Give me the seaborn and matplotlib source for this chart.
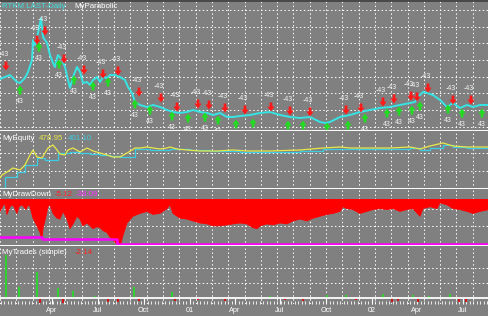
import numpy as np
import pandas as pd
import matplotlib
matplotlib.use("Agg")
import matplotlib.pyplot as plt
import matplotlib.dates as mdates
from matplotlib.path import Path
from matplotlib.lines import Line2D
import seaborn as sns

# ---------------- data ----------------
price_dates = ['1999-12-19','1999-12-29','2000-01-08','2000-01-22','2000-01-28','2000-02-07','2000-02-13','2000-02-21','2000-02-23','2000-02-27',
               '2000-03-04','2000-03-08','2000-03-10','2000-03-14','2000-03-22','2000-03-28','2000-04-03','2000-04-07','2000-04-11','2000-04-13',
               '2000-04-21','2000-04-27','2000-05-03','2000-05-07','2000-05-13','2000-05-21','2000-05-27','2000-06-02','2000-06-10','2000-06-16',
               '2000-06-22','2000-06-30','2000-07-06','2000-07-12','2000-07-20','2000-07-26','2000-08-05','2000-08-15','2000-08-25','2000-08-31',
               '2000-09-08','2000-09-14','2000-09-24','2000-10-08','2000-10-20','2000-11-03','2000-11-17','2000-11-29','2000-12-13','2000-12-27',
               '2001-01-08','2001-01-22','2001-02-05','2001-02-17','2001-03-03','2001-03-17','2001-03-29','2001-04-12','2001-05-02','2001-05-22',
               '2001-06-11','2001-07-01','2001-07-21','2001-08-10','2001-08-30','2001-09-19','2001-09-29','2001-10-09','2001-10-29','2001-11-18',
               '2001-12-08','2001-12-28','2002-01-17','2002-02-06','2002-02-26','2002-03-18','2002-03-28','2002-04-07','2002-04-13','2002-04-21',
               '2002-05-03','2002-05-17','2002-05-31','2002-06-12','2002-06-26','2002-07-10','2002-07-22','2002-08-05','2002-08-23']
price_values = [1930,1990,2050,1840,1810,1960,2140,2500,3100,2950,
                3310,3610,3760,3190,3010,2650,2410,2290,2560,2650,
                2500,2290,1900,1660,1990,2290,2140,1810,1840,1750,
                1900,1990,1840,1990,1960,2050,2050,1990,1900,1690,
                1510,1240,1150,1090,1150,1090,1000,940,910,940,
                1000,940,910,850,910,790,790,820,850,910,
                940,850,790,760,790,640,610,640,790,850,
                940,1000,1060,1090,1150,1210,1240,1450,1540,1510,
                1450,1300,1090,1210,1060,1150,1090,1150,1150]

sell_dates = ['1999-12-31','2000-03-02','2000-03-18','2000-04-25','2000-06-04','2000-07-12','2000-08-11','2000-09-22','2000-11-05','2000-12-07',
              '2001-01-18','2001-02-09','2001-03-13','2001-04-22','2001-06-13','2001-07-21','2001-08-30','2001-11-10','2001-12-10','2002-01-23',
              '2002-02-14','2002-03-20','2002-04-01','2002-04-23','2002-06-12','2002-07-18']
sell_levels = [2320,3100,3370,2530,2200,2080,2170,1540,1360,1090,
               1180,1150,1060,1000,1090,970,940,1000,1060,1240,
               1330,1420,1390,1660,1300,1300]
sell_text = '-43'

buy_dates = ['2000-01-28','2000-03-06','2000-04-15','2000-05-15','2000-06-22','2000-07-22','2000-09-14','2000-10-14','2000-11-27','2000-12-29',
             '2001-02-01','2001-02-27','2001-04-04','2001-05-08','2001-07-17','2001-08-16','2001-10-03','2001-11-14','2001-12-18','2002-01-31',
             '2002-02-24','2002-03-22','2002-04-07','2002-06-02','2002-06-30','2002-08-09']
buy_levels = [1600,2890,2380,1900,1720,1840,1180,1000,820,760,
              790,700,580,610,550,550,490,550,760,910,
              970,1000,1120,1030,910,910]
buy_text = '43'

eq_open_dates = ['1999-12-19','1999-12-23','2000-01-02','2000-01-14','2000-01-28','2000-02-07','2000-02-17','2000-02-23','2000-03-02','2000-03-12',
                 '2000-03-18','2000-03-24','2000-04-03','2000-04-11','2000-04-17','2000-04-27','2000-05-03','2000-05-13','2000-05-27','2000-06-10',
                 '2000-06-22','2000-07-06','2000-07-20','2000-08-01','2000-08-15','2000-08-29','2000-09-08','2000-09-14','2000-09-24','2000-10-08',
                 '2000-10-20','2000-11-03','2000-11-17','2000-11-23','2000-12-07','2000-12-27','2001-01-22','2001-02-25','2001-03-29','2001-04-26',
                 '2001-06-11','2001-08-10','2001-09-25','2001-10-29','2001-11-18','2002-01-03','2002-02-06','2002-03-18','2002-04-07','2002-04-27',
                 '2002-05-23','2002-06-12','2002-07-10','2002-08-23']
eq_open = [110,140,170,210,190,240,340,390,320,310,
           360,410,440,390,350,340,390,410,370,410,
           380,360,340,320,320,360,390,410,410,420,
           410,400,410,420,400,390,380,380,390,380,
           380,390,410,420,410,410,410,420,400,430,
           460,430,420,420]

eq_closed_dates = ['1999-12-19','1999-12-29','2000-01-22','2000-02-07','2000-03-02','2000-03-18','2000-04-13','2000-05-07','2000-05-27','2000-06-16',
                   '2000-07-06','2000-07-26','2000-08-15','2000-09-14','2000-10-14','2000-11-23','2001-01-02','2001-02-11','2001-04-12','2001-06-11',
                   '2001-08-10','2001-09-25','2001-11-18','2002-02-06','2002-03-18','2002-04-07','2002-04-27','2002-05-23','2002-06-12','2002-07-10',
                   '2002-08-23']
eq_closed = [10,120,170,240,310,290,360,370,360,350,
             340,330,320,400,390,400,390,380,370,370,
             380,400,400,400,410,390,410,440,420,410,
             410]

dd_dates = ['1999-12-19','1999-12-25','1999-12-29','2000-01-02','2000-01-08','2000-01-14','2000-01-22','2000-01-26','2000-02-01','2000-02-09',
            '2000-02-13','2000-02-17','2000-02-23','2000-03-02','2000-03-08','2000-03-12','2000-03-14','2000-03-20','2000-03-24','2000-03-28',
            '2000-04-03','2000-04-11','2000-04-17','2000-04-23','2000-05-01','2000-05-07','2000-05-13','2000-05-21','2000-05-27','2000-06-02',
            '2000-06-10','2000-06-16','2000-06-22','2000-06-30','2000-07-06','2000-07-12','2000-07-20','2000-07-26','2000-08-01','2000-08-09',
            '2000-08-17','2000-08-21','2000-08-29','2000-09-10','2000-09-24','2000-10-08','2000-10-20','2000-11-03','2000-11-17','2000-11-23',
            '2000-11-29','2000-12-13','2000-12-27','2001-01-08','2001-01-22','2001-02-05','2001-02-17','2001-03-03','2001-03-17','2001-03-29',
            '2001-04-12','2001-04-26','2001-05-08','2001-05-16','2001-05-22','2001-06-05','2001-06-17','2001-07-01','2001-07-15','2001-07-27',
            '2001-08-10','2001-08-24','2001-09-05','2001-09-19','2001-10-03','2001-10-15','2001-10-29','2001-11-04','2001-11-12','2001-11-24',
            '2001-12-08','2001-12-22','2002-01-03','2002-01-17','2002-01-31','2002-02-12','2002-02-26','2002-03-12','2002-03-24','2002-04-07',
            '2002-04-13','2002-04-27','2002-05-11','2002-05-17','2002-05-31','2002-06-12','2002-06-26','2002-07-10','2002-07-22','2002-08-05',
            '2002-08-23']
drawdown = [-10.5,-5.7,-4.1,-13.0,-6.5,-4.9,-12.2,-6.5,-4.9,-8.9,
            -4.9,-6.5,-16.2,-22.7,-28.4,-34.0,-25.1,-14.6,-6.5,-4.9,
            -12.2,-16.2,-17.0,-10.5,-17.0,-25.1,-21.1,-14.6,-17.0,-22.7,
            -20.3,-22.7,-25.1,-23.5,-24.3,-26.7,-28.4,-32.4,-34.8,-38.1,
            -37.3,-30.8,-20.3,-14.6,-12.2,-10.5,-13.0,-12.2,-8.1,-4.9,
            -12.2,-16.2,-17.0,-18.6,-20.3,-21.1,-22.7,-22.7,-21.9,-21.1,
            -20.3,-21.1,-24.3,-25.1,-22.7,-21.1,-21.9,-20.3,-21.1,-18.6,
            -17.0,-18.6,-16.2,-14.6,-13.0,-12.2,-10.5,-6.5,-8.1,-8.9,
            -12.2,-10.5,-8.9,-8.1,-8.9,-8.1,-10.5,-8.9,-8.1,-14.6,
            -8.1,-6.5,-8.1,-3.2,-4.9,-8.1,-8.9,-10.5,-12.2,-10.5,
            -8.9]

maxdd_dates = ['1999-12-19','2000-03-12','2000-08-09','2002-08-23']
max_drawdown = [-32.4,-34.0,-38.1,-38.1]

win_dates = ['1999-12-31','2000-01-26','2000-03-02','2000-04-13','2000-05-13','2000-06-26','2000-09-12','2000-11-27',
             '2001-06-11','2001-10-03','2001-11-10','2002-01-23','2002-03-24','2002-04-25','2002-06-06']
win_values = [21.5,5.5,13.0,5.2,3.5,1.0,5.5,3.0,1.0,1.5,1.5,2.0,1.5,1.0,2.0]
loss_dates = ['2000-03-08','2000-04-23','2000-07-22','2000-08-11','2000-09-22','2000-12-03','2001-01-18','2001-03-13',
              '2001-07-11','2001-08-16','2001-11-30','2002-02-10','2002-02-22','2002-04-03','2002-06-24','2002-07-08']
loss_values = [-2.5,-2.5,-2.0,-2.0,-1.5,-1.5,-1.0,-1.5,-1.0,-1.5,-1.0,-2.0,-1.5,-2.0,-2.0,-2.14]

quarter_ticks = ['2000-04-01','2000-07-01','2000-10-01','2001-01-01','2001-04-01','2001-07-01','2001-10-01','2002-01-01','2002-04-01','2002-07-01']
quarter_labels = ['Apr','Jul','Oct','01','Apr','Jul','Oct','02','Apr','Jul']

header_equity = ['478.95', '401.10']
header_drawdown = ['-5.12', '-38.09']
header_trades = '-2.14'

# ---------------- style ----------------
BG = '#808080'
W, H = 489, 316
sns.set_theme(style='dark', rc={'axes.facecolor': BG, 'figure.facecolor': BG, 'savefig.facecolor': BG})
plt.rcParams['font.family'] = ['Liberation Sans', 'DejaVu Sans']

X0, X1 = pd.Timestamp('1999-12-19'), pd.Timestamp('2002-08-23')
DOT = (0, (1.5, 2.5))

fig = plt.figure(figsize=(W / 100, H / 100), dpi=100)


def panel(top, bottom):
    ax = fig.add_axes([0, 1 - bottom / H, 1, (bottom - top) / H])
    ax.set_facecolor(BG)
    for s in ax.spines.values():
        s.set_visible(False)
    return ax


ax_p = panel(0, 131)
ax_e = panel(131, 189)
ax_d = panel(189, 246)
ax_t = panel(246, 304)

# ---- price panel ----
sns.lineplot(x=pd.to_datetime(price_dates), y=price_values, ax=ax_p, color='#36e4e4', lw=1.4, zorder=3)

down_arrow = Path([(-0.3, 1), (0.3, 1), (0.3, 0.1), (0.8, 0.1), (0, -1), (-0.8, 0.1), (-0.3, 0.1), (-0.3, 1)], closed=True)
up_arrow = Path([(-0.3, -1), (0.3, -1), (0.3, -0.1), (0.8, -0.1), (0, 1), (-0.8, -0.1), (-0.3, -0.1), (-0.3, -1)], closed=True)

sns.scatterplot(x=pd.to_datetime(sell_dates), y=sell_levels, ax=ax_p, marker=down_arrow, s=42,
                color='#ff1a1a', edgecolor='none', linewidth=0, zorder=4)
sns.scatterplot(x=pd.to_datetime(buy_dates), y=buy_levels, ax=ax_p, marker=up_arrow, s=42,
                color='#20dd20', edgecolor='none', linewidth=0, zorder=4)
for d, v in zip(pd.to_datetime(sell_dates), sell_levels):
    ax_p.annotate(sell_text, xy=(d, v), xytext=(-1.5, 8.5), textcoords='offset points', ha='center', va='center',
                  fontsize=5.0, color='#f0f0f0', clip_on=True, annotation_clip=False, zorder=5)
for d, v in zip(pd.to_datetime(buy_dates), buy_levels):
    ax_p.annotate(buy_text, xy=(d, v), xytext=(0, -8), textcoords='offset points', ha='center', va='center',
                  fontsize=5.0, color='#f0f0f0', clip_on=True, annotation_clip=False, zorder=5)
ax_p.set_ylim(370, 4300)
ax_p.set_yticks([500, 1000, 1500, 2000, 2500, 3000, 3500, 4000])

# ---- equity panel ----
sns.lineplot(x=pd.to_datetime(eq_closed_dates), y=eq_closed, ax=ax_e, color='#3ccde2', lw=0.9,
             drawstyle='steps-post', zorder=3)
sns.lineplot(x=pd.to_datetime(eq_open_dates), y=eq_open, ax=ax_e, color='#e8e84a', lw=0.9, zorder=4)
ax_e.set_ylim(0, 580)
ax_e.set_yticks([180, 360])

# ---- drawdown panel ----
ddx = pd.to_datetime(dd_dates)
ax_d.fill_between(ddx, drawdown, 0, color='#ff0000', lw=0, zorder=2)
sns.lineplot(x=ddx, y=drawdown, ax=ax_d, color='#ff0000', lw=0.6, zorder=2)
sns.lineplot(x=pd.to_datetime(maxdd_dates), y=max_drawdown, ax=ax_d, color='#ff00ff', lw=1.8,
             drawstyle='steps-post', zorder=3)
ax_d.set_ylim(-39.8, 8.5)
ax_d.set_yticks([-8.5, -23.0])

# ---- trades panel ----
ax_t.bar(pd.to_datetime(win_dates), win_values, width=5, color='#2ed22e', lw=0, zorder=2)
ax_t.bar(pd.to_datetime(loss_dates), loss_values, width=5, color='#d01818', lw=0, zorder=2)
ax_t.axhline(0, color='white', lw=1.3, zorder=3)
ax_t.set_ylim(-3, 26)
ax_t.set_yticks([7.5, 15])

# ---- common axes styling ----
axes = [ax_p, ax_e, ax_d, ax_t]
for ax in axes:
    ax.set_xlim(X0, X1)
    ax.set_xlabel('')
    ax.set_ylabel('')
    ax.set_axisbelow(True)
    ax.grid(True, axis='y', color='white', linewidth=0.7, linestyle=DOT)
    ax.grid(False, axis='x')
    ax.tick_params(axis='y', left=False, right=False, labelleft=False, length=0)
    xg = np.linspace(mdates.date2num(X0), mdates.date2num(X1), 31)
    ax.vlines(xg, 0, 1, transform=ax.get_xaxis_transform(), colors='white', linewidth=0.7,
              linestyles=DOT, zorder=1)
    if ax is not ax_t:
        ax.tick_params(axis='x', which='both', bottom=False, labelbottom=False, length=0)
        ax.spines['bottom'].set_visible(True)
        ax.spines['bottom'].set_color('white')
        ax.spines['bottom'].set_linewidth(1.4)
        ax.spines['bottom'].set_zorder(6)

ax_t.set_xticks(pd.to_datetime(quarter_ticks))
ax_t.set_xticklabels(quarter_labels)
ax_t.xaxis.set_minor_locator(mdates.WeekdayLocator(byweekday=mdates.MO))
ax_t.tick_params(axis='x', which='major', bottom=True, direction='in', length=4, width=0.8,
                 color='white', labelcolor='white', labelsize=5.2, pad=2)
ax_t.tick_params(axis='x', which='minor', bottom=True, direction='in', length=2.2, width=0.6, color='white')
ax_t.set_xlim(X0, X1)

# ---- headers ----
fs = 5.7
ax_p.text(2 / W, 1 - 6 / 131, 'RTKM LAST-Daily', color='#3fe0e0', fontsize=fs, ha='left', va='center', transform=ax_p.transAxes, zorder=7)
ax_p.text(74 / W, 1 - 6 / 131, 'MyParabolic', color='white', fontsize=fs, ha='left', va='center', transform=ax_p.transAxes, zorder=7)
ax_e.text(2 / W, 1 - 8 / 58, 'MyEquity', color='white', fontsize=fs, ha='left', va='center', transform=ax_e.transAxes, zorder=7)
ax_e.text(39 / W, 1 - 8 / 58, header_equity[0], color='#e8e84a', fontsize=fs, ha='left', va='center', transform=ax_e.transAxes, zorder=7)
ax_e.text(68 / W, 1 - 8 / 58, header_equity[1], color='#3ccde2', fontsize=fs, ha='left', va='center', transform=ax_e.transAxes, zorder=7)
ax_d.text(2 / W, 1 - 5 / 57, 'MyDrawDown', color='white', fontsize=fs, ha='left', va='center', transform=ax_d.transAxes, zorder=7)
ax_d.text(55 / W, 1 - 5 / 57, header_drawdown[0], color='#ff2020', fontsize=fs, ha='left', va='center', transform=ax_d.transAxes, zorder=7)
ax_d.text(76 / W, 1 - 5 / 57, header_drawdown[1], color='#ff30ff', fontsize=fs, ha='left', va='center', transform=ax_d.transAxes, zorder=7)
ax_t.text(2 / W, 1 - 6.5 / 58, 'MyTrades (simple)', color='white', fontsize=fs, ha='left', va='center', transform=ax_t.transAxes, zorder=7)
ax_t.text(75 / W, 1 - 6.5 / 58, header_trades, color='#ff2020', fontsize=fs, ha='left', va='center', transform=ax_t.transAxes, zorder=7)

fig.add_artist(Line2D([0, 1], [1 - 0.6 / H, 1 - 0.6 / H], color='#404040', lw=1.2, transform=fig.transFigure))

fig.savefig('out.png', dpi=100, facecolor=BG)
